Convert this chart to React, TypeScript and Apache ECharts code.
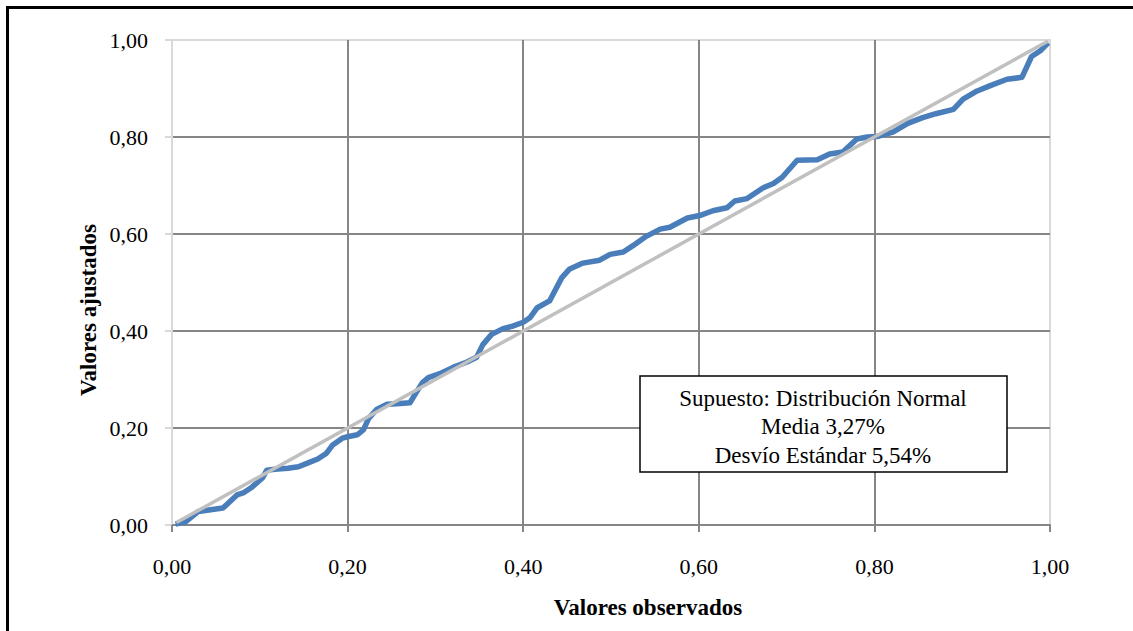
import React, { useEffect, useRef } from "react";
import * as echarts from "echarts";

const xObserved = [0.004,0.015,0.03,0.038,0.058,0.064,0.074,0.081,0.091,0.103,0.108,0.117,0.132,0.144,0.155,0.166,0.176,0.183,0.194,0.2,0.211,0.218,0.224,0.233,0.245,0.256,0.271,0.277,0.285,0.292,0.305,0.32,0.336,0.347,0.354,0.364,0.377,0.388,0.4,0.408,0.416,0.43,0.444,0.453,0.468,0.487,0.499,0.514,0.525,0.539,0.556,0.567,0.587,0.601,0.616,0.632,0.641,0.655,0.673,0.685,0.695,0.712,0.735,0.749,0.764,0.78,0.792,0.803,0.821,0.838,0.855,0.87,0.89,0.901,0.917,0.932,0.951,0.968,0.979,0.989,0.998];
const yFitted = [0.002,0.006,0.028,0.03,0.035,0.045,0.062,0.066,0.078,0.097,0.113,0.115,0.117,0.12,0.128,0.136,0.148,0.165,0.179,0.182,0.186,0.196,0.22,0.238,0.249,0.25,0.252,0.27,0.293,0.304,0.312,0.325,0.336,0.346,0.372,0.393,0.405,0.41,0.418,0.428,0.448,0.462,0.51,0.528,0.54,0.546,0.558,0.563,0.576,0.594,0.61,0.614,0.633,0.638,0.648,0.654,0.668,0.673,0.695,0.704,0.717,0.752,0.753,0.765,0.769,0.796,0.8,0.801,0.81,0.828,0.84,0.848,0.857,0.878,0.895,0.906,0.919,0.923,0.966,0.978,0.994];
const refX = [0.005, 0.998];
const refY = [0.005, 0.998];

const xTitle = "Valores observados";
const yTitle = "Valores ajustados";
const noteLines = ["Supuesto: Distribución Normal", "Media 3,27%", "Desvío Estándar 5,54%"];

const FONT = "Liberation Serif";
const fmt = (v: number) => v.toFixed(2).replace(".", ",");

export default function App() {
  const ref = useRef<HTMLDivElement>(null);
  useEffect(() => {
    if (!ref.current) return;
    const chart = echarts.init(ref.current, null, { renderer: "svg" });
    const blue = xObserved.map((x, i) => [x, yFitted[i]]);
    const gray = refX.map((x, i) => [x, refY[i]]);
    chart.setOption({
      animation: false,
      backgroundColor: "#ffffff",
      grid: { left: 172, top: 40, width: 878, height: 485, show: true, borderColor: "#d9d9d9", borderWidth: 2, backgroundColor: "transparent" },
      xAxis: {
        type: "value", min: 0, max: 1, interval: 0.2,
        axisLine: { show: true, lineStyle: { color: "#868686", width: 2 } },
        axisTick: { show: true, length: 7, lineStyle: { color: "#868686", width: 2 } },
        axisLabel: { formatter: fmt, color: "#000", fontFamily: FONT, fontSize: 22, margin: 30 },
        splitLine: { show: true, showMinLine: false, showMaxLine: false, lineStyle: { color: "#868686", width: 2 } },
      },
      yAxis: {
        type: "value", min: 0, max: 1, interval: 0.2,
        axisLine: { show: true, lineStyle: { color: "#d9d9d9", width: 2 } },
        axisTick: { show: true, length: 7, lineStyle: { color: "#d9d9d9", width: 2 } },
        axisLabel: { formatter: fmt, color: "#000", fontFamily: FONT, fontSize: 22, margin: 24 },
        splitLine: { show: true, showMinLine: false, showMaxLine: false, lineStyle: { color: "#868686", width: 2 } },
      },
      series: [
        { type: "line", data: blue, showSymbol: false, symbol: "none", lineStyle: { color: "#4a7ebb", width: 5.5, join: "round" }, z: 3 },
        { type: "line", data: gray, showSymbol: false, symbol: "none", lineStyle: { color: "#c0c0c0", width: 3.5 }, z: 4 },
      ],
      graphic: [
        { type: "rect", shape: { x: 6, y: 6, width: 3, height: 625 }, style: { fill: "#000" } },
        { type: "rect", shape: { x: 6, y: 6, width: 1127, height: 3 }, style: { fill: "#000" } },
        { type: "text", x: 648, y: 607, style: { text: xTitle, fontFamily: FONT, fontWeight: "bold", fontSize: 23, fill: "#000", textAlign: "center", textVerticalAlign: "middle" } },
        { type: "text", x: 88, y: 310, rotation: Math.PI / 2, style: { text: yTitle, fontFamily: FONT, fontWeight: "bold", fontSize: 23, fill: "#000", textAlign: "center", textVerticalAlign: "middle" } },
        { type: "rect", z: 10, shape: { x: 640, y: 376, width: 367, height: 96 }, style: { fill: "#fff", stroke: "#000", lineWidth: 1.5 } },
        ...noteLines.map((t, i) => ({ type: "text", z: 11, x: 823, y: 398 + i * 28.5, style: { text: t, fontFamily: FONT, fontSize: 23, fill: "#000", textAlign: "center", textVerticalAlign: "middle" } })),
      ],
    });
    return () => chart.dispose();
  }, []);
  return <div ref={ref} style={{ position: "absolute", left: 0, top: 0, width: 1133, height: 631 }} />;
}
